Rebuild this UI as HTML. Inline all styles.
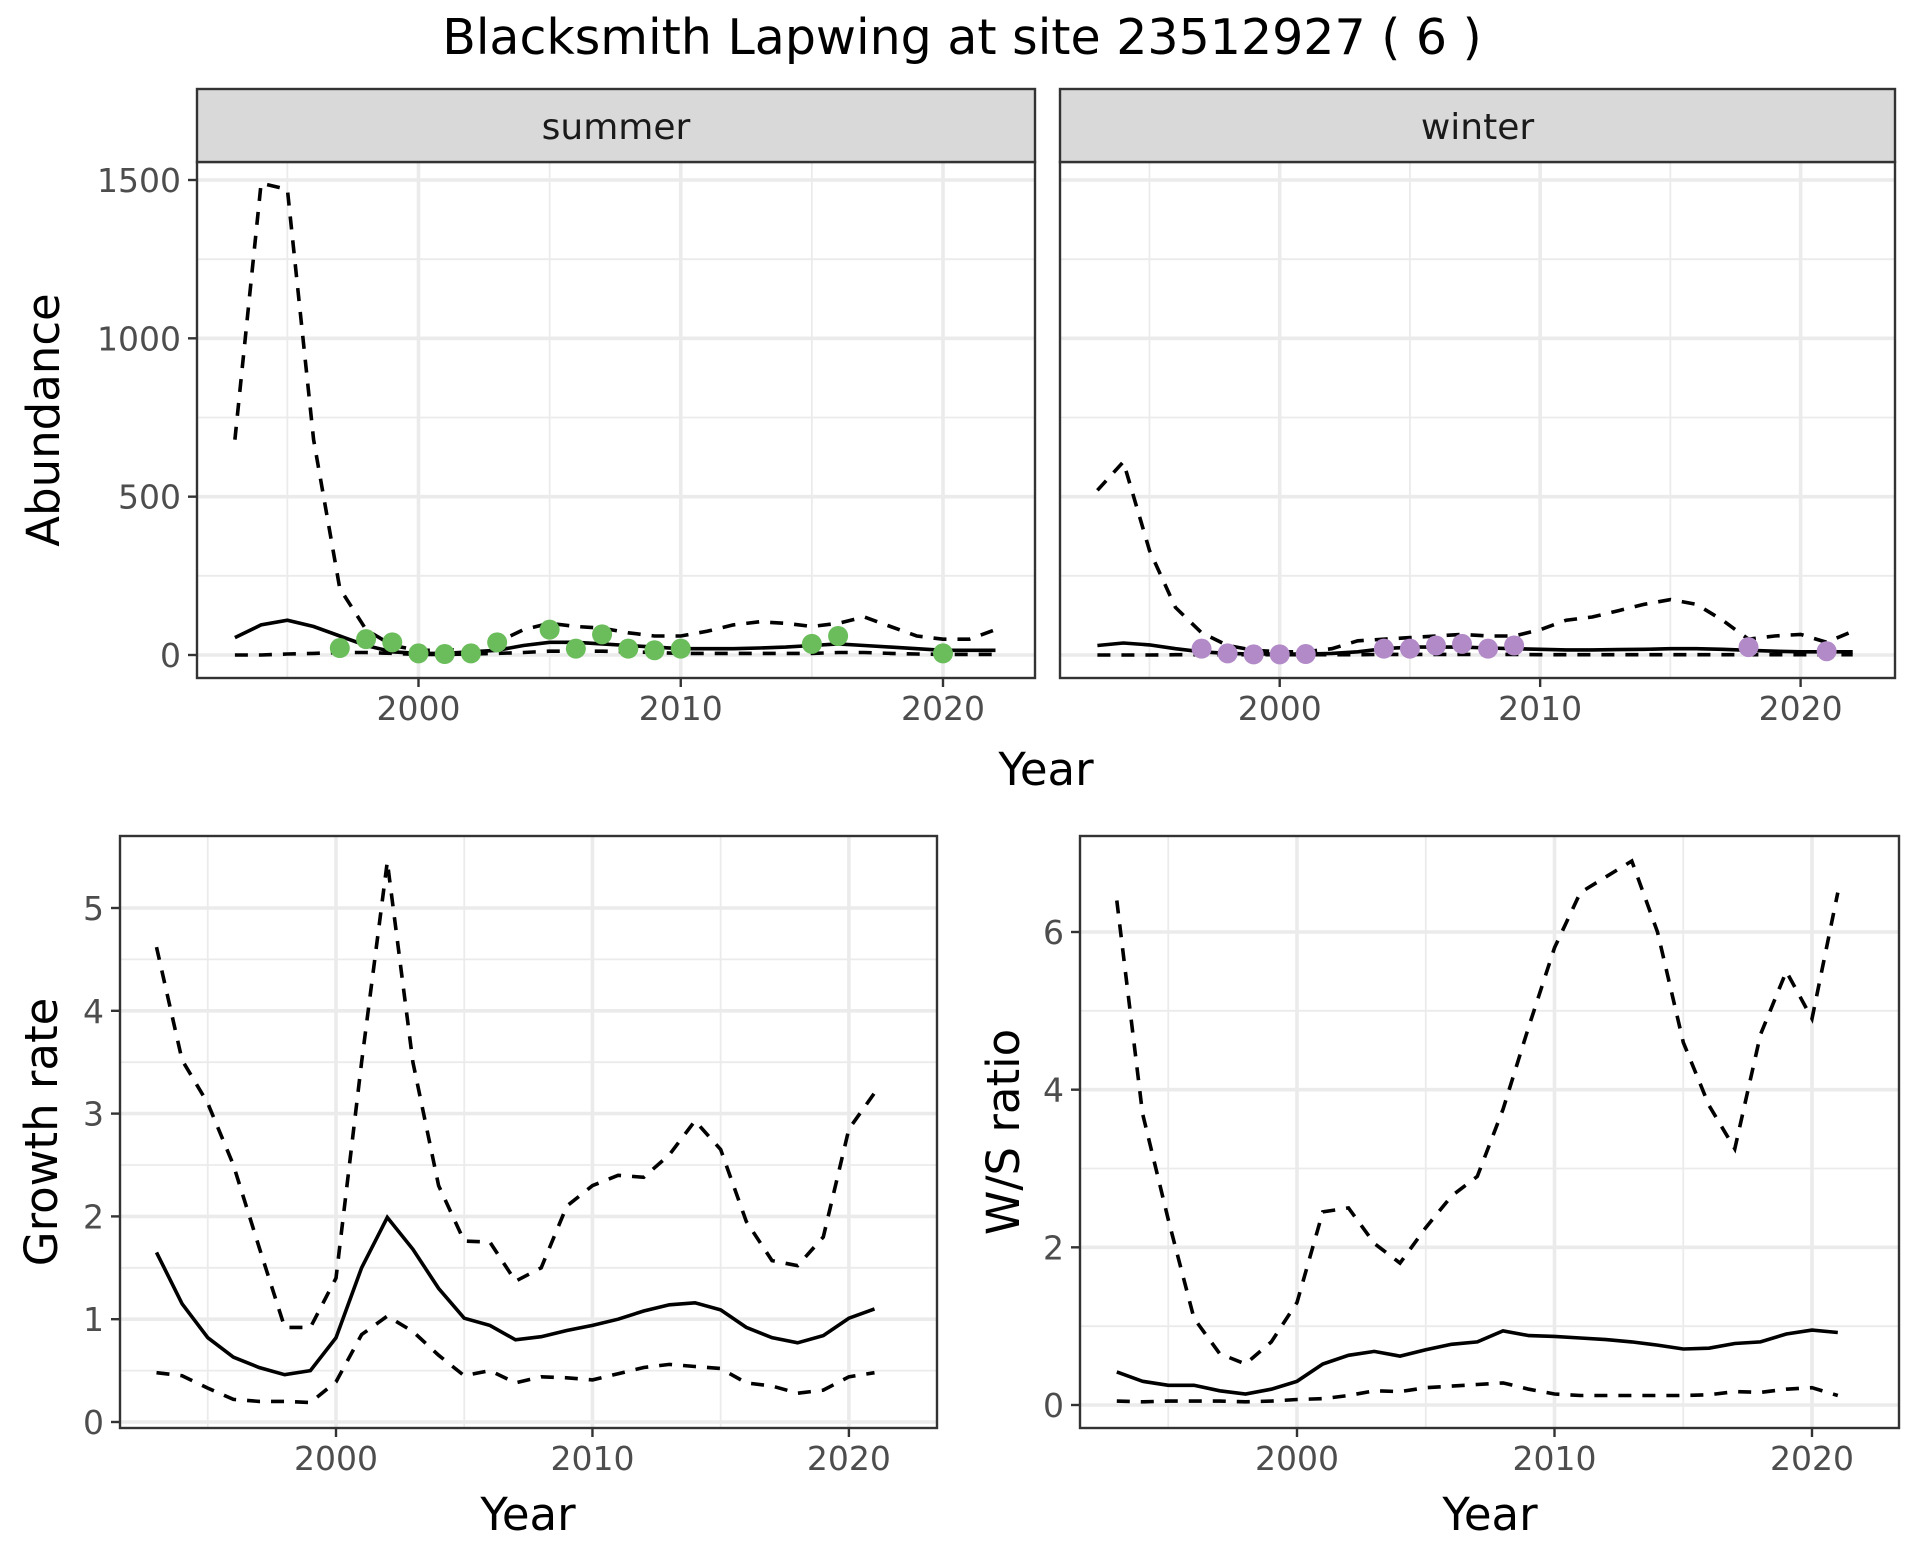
<!DOCTYPE html>
<html><head><meta charset="utf-8"><style>
html,body{margin:0;padding:0;background:#fff}
svg{display:block;font-family:"DejaVu Sans","Liberation Sans",sans-serif}
</style></head><body>
<svg id="chart" width="1920" height="1560" viewBox="0 0 1920 1560">
<text x="962" y="54" text-anchor="middle" font-size="49" fill="#000">Blacksmith Lapwing at site 23512927 ( 6 )</text>
</svg>
<script>
const absYears=[1993,1994,1995,1996,1997,1998,1999,2000,2001,2002,2003,2004,2005,2006,2007,2008,2009,2010,2011,2012,2013,2014,2015,2016,2017,2018,2019,2020,2021,2022];
const summerMean=[55,95,110,90,60,30,10,5,5,10,15,30,40,40,35,30,25,20,20,20,22,25,30,35,30,25,20,15,15,15];
const summerUpper=[680,1490,1470,680,210,80,30,15,15,20,40,80,100,90,85,70,60,60,75,95,105,100,90,100,120,90,60,50,50,80];
const summerLower=[0,0,3,5,8,8,5,2,2,3,5,8,12,12,12,10,8,5,5,5,5,5,5,8,8,5,3,2,2,2];
const summerPtYears=[1997,1998,1999,2000,2001,2002,2003,2005,2006,2007,2008,2009,2010,2015,2016,2020];
const summerPtVals=[22,50,40,5,3,5,40,80,20,65,20,15,20,35,60,5];
const winterMean=[30,38,32,20,10,5,3,3,3,5,10,20,25,25,25,22,20,18,16,16,17,18,20,20,18,15,12,10,10,10];
const winterUpper=[520,610,330,150,70,30,15,10,10,20,45,50,55,60,65,60,60,80,110,120,140,160,175,160,110,50,60,65,40,75];
const winterLower=[0,0,0,1,1,1,1,1,1,1,1,2,2,2,2,2,2,1,1,1,1,1,1,1,1,1,1,1,1,1];
const winterPtYears=[1997,1998,1999,2000,2001,2004,2005,2006,2007,2008,2009,2018,2021];
const winterPtVals=[20,5,2,2,3,20,20,30,35,20,30,25,12];
const rateYears=[1993,1994,1995,1996,1997,1998,1999,2000,2001,2002,2003,2004,2005,2006,2007,2008,2009,2010,2011,2012,2013,2014,2015,2016,2017,2018,2019,2020,2021];
const growthMean=[1.65,1.15,0.82,0.63,0.53,0.46,0.5,0.82,1.5,1.99,1.68,1.3,1.01,0.94,0.8,0.83,0.89,0.94,1.0,1.08,1.14,1.16,1.09,0.92,0.82,0.77,0.84,1.01,1.1];
const growthUpper=[4.62,3.52,3.1,2.5,1.7,0.92,0.92,1.4,3.5,5.45,3.5,2.3,1.76,1.75,1.37,1.5,2.1,2.3,2.4,2.38,2.6,2.93,2.65,1.95,1.57,1.52,1.8,2.85,3.2];
const growthLower=[0.48,0.45,0.33,0.22,0.2,0.2,0.19,0.39,0.85,1.03,0.88,0.65,0.45,0.5,0.38,0.44,0.43,0.41,0.47,0.53,0.56,0.54,0.52,0.38,0.35,0.28,0.31,0.44,0.48];
const ratioMean=[0.42,0.3,0.25,0.25,0.18,0.14,0.2,0.3,0.52,0.63,0.68,0.62,0.7,0.77,0.8,0.94,0.88,0.87,0.85,0.83,0.8,0.76,0.71,0.72,0.78,0.8,0.9,0.95,0.92];
const ratioUpper=[6.4,3.7,2.35,1.1,0.65,0.52,0.8,1.3,2.45,2.5,2.05,1.8,2.25,2.65,2.9,3.75,4.8,5.8,6.5,6.7,6.9,6.0,4.6,3.8,3.25,4.7,5.5,4.9,6.5];
const ratioLower=[0.05,0.04,0.05,0.05,0.05,0.04,0.05,0.07,0.08,0.12,0.18,0.17,0.22,0.24,0.26,0.28,0.2,0.14,0.12,0.12,0.12,0.12,0.12,0.13,0.17,0.16,0.2,0.22,0.12];
const xTicks=[2000,2010,2020];
const xMinor=[1995,2005,2015];
const absTicks=[0,500,1000,1500];
const absMinor=[250,750,1250];
const growthTicks=[0,1,2,3,4,5];
const growthMinor=[0.5,1.5,2.5,3.5,4.5];
const ratioTicks=[0,2,4,6];
const ratioMinor=[1,3,5];

const svg=document.getElementById('chart');
const NS='http://www.w3.org/2000/svg';
function mk(tag,attrs,parent){const e=document.createElementNS(NS,tag);for(const k in attrs)e.setAttribute(k,attrs[k]);(parent||svg).appendChild(e);return e;}

function panel(o){
  const g=mk('g',{});
  
  
  const xs=v=>o.x0px+(v-o.x0v)*(o.x1px-o.x0px)/(o.x1v-o.x0v);
  const ys=v=>o.y0px+(v-o.y0v)*(o.y1px-o.y0px)/(o.y1v-o.y0v);
  mk('rect',{x:o.L,y:o.T,width:o.R-o.L,height:o.B-o.T,fill:'#fff'},g);
  o.yMinor.forEach(v=>mk('line',{x1:o.L,x2:o.R,y1:ys(v),y2:ys(v),stroke:'#EBEBEB','stroke-width':1.8},g));
  xMinor.forEach(v=>mk('line',{x1:xs(v),x2:xs(v),y1:o.T,y2:o.B,stroke:'#EBEBEB','stroke-width':1.8},g));
  o.yTicks.forEach(v=>mk('line',{x1:o.L,x2:o.R,y1:ys(v),y2:ys(v),stroke:'#EBEBEB','stroke-width':3.6},g));
  xTicks.forEach(v=>mk('line',{x1:xs(v),x2:xs(v),y1:o.T,y2:o.B,stroke:'#EBEBEB','stroke-width':3.6},g));
  const line=(vals,dash,nm)=>{
    const d=vals.map((v,i)=>(i?'L':'M')+xs(o.years[i]).toFixed(1)+','+ys(v).toFixed(1)).join('');
    const p=mk('path',{d:d,fill:'none',stroke:'#000','stroke-width':3.6,'stroke-dasharray':dash?'13,11':'none'},g);
    
    
  };
  line(o.upper,true,'upper-bound-line');
  line(o.lower,true,'lower-bound-line');
  line(o.mean,false,'mean-line');
  if(o.ptYears){o.ptYears.forEach((yr,i)=>{
    const c=mk('circle',{cx:xs(yr),cy:ys(o.ptVals[i]),r:10,fill:o.ptColor},g);
    
    
  });}
  mk('rect',{x:o.L,y:o.T,width:o.R-o.L,height:o.B-o.T,fill:'none',stroke:'#333','stroke-width':2.4},g);
  if(o.showY){o.yTicks.forEach(v=>{
    mk('line',{x1:o.L-9,x2:o.L,y1:ys(v),y2:ys(v),stroke:'#333','stroke-width':2.4},g);
    const t=mk('text',{x:o.L-16,y:ys(v)+12,'text-anchor':'end','font-size':33,fill:'#4D4D4D'},g);
    t.textContent=v;
    
    
  });}
  xTicks.forEach(v=>{
    mk('line',{x1:xs(v),x2:xs(v),y1:o.B,y2:o.B+9,stroke:'#333','stroke-width':2.4},g);
    const t=mk('text',{x:xs(v),y:o.B+42,'text-anchor':'middle','font-size':33,fill:'#4D4D4D'},g);
    t.textContent=v;
    
    
  });
  if(o.strip){
    mk('rect',{x:o.L,y:89,width:o.R-o.L,height:o.T-89,fill:'#D9D9D9',stroke:'#333','stroke-width':2.4},g);
    const t=mk('text',{x:(o.L+o.R)/2,y:139,'text-anchor':'middle','font-size':36,fill:'#1A1A1A'},g);
    t.textContent=o.strip;
    
    
  }
}

panel({name:'summer-panel',L:197,R:1035,T:162,B:678,x0v:2000,x0px:418.5,x1v:2020,x1px:943,y0v:0,y0px:655,y1v:1500,y1px:180,
  years:absYears,mean:summerMean,upper:summerUpper,lower:summerLower,ptYears:summerPtYears,ptVals:summerPtVals,ptColor:'#6ABD5A',
  yTicks:absTicks,yMinor:absMinor,showY:true,strip:'summer'});
panel({name:'winter-panel',L:1060,R:1895,T:162,B:678,x0v:2000,x0px:1279.7,x1v:2020,x1px:1800.6,y0v:0,y0px:655,y1v:1500,y1px:180,
  years:absYears,mean:winterMean,upper:winterUpper,lower:winterLower,ptYears:winterPtYears,ptVals:winterPtVals,ptColor:'#B28AC8',
  yTicks:absTicks,yMinor:absMinor,showY:false,strip:'winter'});
panel({name:'growth-rate-panel',L:120,R:937,T:836,B:1428,x0v:2000,x0px:336,x1v:2020,x1px:848.9,y0v:0,y0px:1422,y1v:5,y1px:908,
  years:rateYears,mean:growthMean,upper:growthUpper,lower:growthLower,yTicks:growthTicks,yMinor:growthMinor,showY:true});
panel({name:'ws-ratio-panel',L:1080,R:1899,T:836,B:1428,x0v:2000,x0px:1297,x1v:2020,x1px:1812,y0v:0,y0px:1405,y1v:6,y1px:932,
  years:rateYears,mean:ratioMean,upper:ratioUpper,lower:ratioLower,yTicks:ratioTicks,yMinor:ratioMinor,showY:true});

function title(txt,x,y,rot,nm){
  const t=mk('text',{x:x,y:y,'text-anchor':'middle','font-size':45,fill:'#000',transform:rot?`rotate(-90 ${x} ${y})`:''});
  t.textContent=txt;
  
  
}
title('Abundance',59,420,true,'abundance-y-axis-title');
title('Year',1046,785,false,'top-x-axis-title');
title('Growth rate',57,1132,true,'growth-rate-y-axis-title');
title('W/S ratio',1019,1132,true,'ws-ratio-y-axis-title');
title('Year',528,1530,false,'growth-x-axis-title');
title('Year',1490,1530,false,'ratio-x-axis-title');
</script>
</body></html>
